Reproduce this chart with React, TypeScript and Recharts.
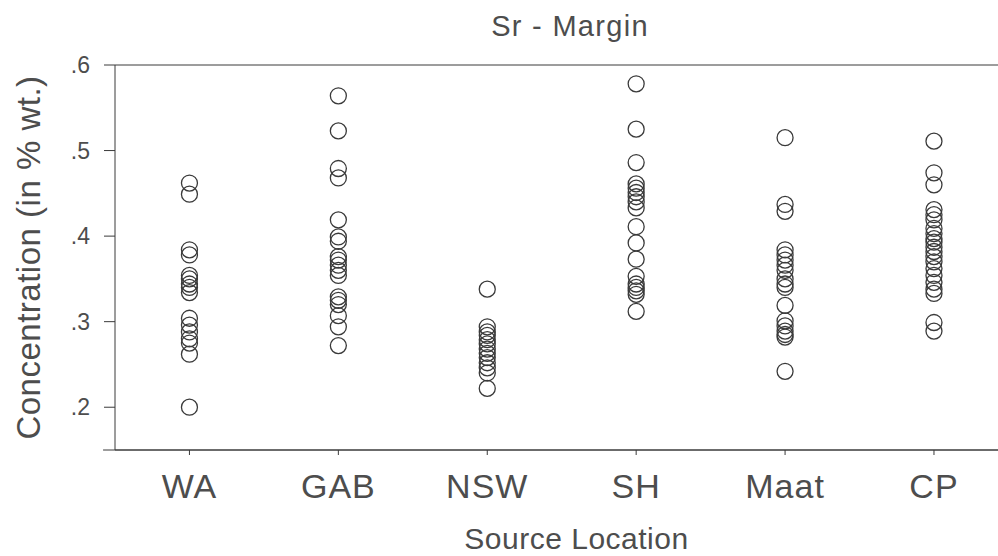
import React from 'react';
import { ScatterChart, Scatter, XAxis, YAxis, ReferenceLine, Label } from 'recharts';

// strontium concentration (% wt.) per source location
const sites = ['WA', 'GAB', 'NSW', 'SH', 'Maat', 'CP'];

const wa = [0.462, 0.449, 0.384, 0.378, 0.354, 0.35, 0.344, 0.34, 0.334, 0.304, 0.296, 0.288, 0.28, 0.275, 0.262, 0.2];
const gab = [0.564, 0.523, 0.479, 0.468, 0.419, 0.399, 0.394, 0.376, 0.372, 0.366, 0.36, 0.354, 0.329, 0.325, 0.32, 0.307, 0.294, 0.272];
const nsw = [0.338, 0.294, 0.288, 0.284, 0.279, 0.274, 0.268, 0.263, 0.258, 0.252, 0.246, 0.24, 0.222];
const sh = [0.578, 0.525, 0.486, 0.461, 0.456, 0.451, 0.446, 0.44, 0.433, 0.411, 0.392, 0.373, 0.353, 0.344, 0.34, 0.336, 0.332, 0.312];
const maat = [0.515, 0.437, 0.429, 0.384, 0.378, 0.372, 0.366, 0.36, 0.35, 0.344, 0.34, 0.319, 0.301, 0.295, 0.289, 0.285, 0.282, 0.242];
const cp = [0.511, 0.474, 0.46, 0.431, 0.425, 0.419, 0.409, 0.403, 0.397, 0.393, 0.387, 0.382, 0.376, 0.37, 0.362, 0.354, 0.346, 0.338, 0.333, 0.299, 0.289];

const yTicks = [0.2, 0.3, 0.4, 0.5, 0.6];
const xTicks = [1, 2, 3, 4, 5, 6];

const seriesValues = [wa, gab, nsw, sh, maat, cp];

const xDomain = [0.5, 6.43];
const yDomain = [0.15, 0.6];

const ink = '#3a3a3a';
const textColor = '#4d4d4d';
const font = '"Liberation Sans", Arial, Helvetica, sans-serif';

const Ring = (props: any) => {
  const { cx, cy } = props;
  return <circle cx={cx} cy={cy} r={8} fill="none" stroke={ink} strokeWidth={1.3} />;
};

const App: React.FC = () => {
  return (
    <div style={{ position: 'absolute', left: 0, top: 0, width: 998, height: 556, background: '#fff', fontFamily: font }}>
      <div
        style={{
          position: 'absolute',
          top: 10,
          left: 0,
          width: 998,
          paddingLeft: 142,
          boxSizing: 'border-box',
          textAlign: 'center',
          fontSize: 29,
          color: textColor,
          letterSpacing: 1.3,
        }}
      >
        Sr - Margin
      </div>
      <ScatterChart width={998} height={556} margin={{ top: 65, right: 0, bottom: 0, left: 0 }}>
        <XAxis
          type="number"
          dataKey="x"
          domain={xDomain}
          ticks={xTicks}
          allowDataOverflow
          tickFormatter={(v: number) => sites[v - 1] ?? ''}
          height={106}
          tickSize={5}
          tickMargin={19}
          stroke={ink}
          tick={{ fill: textColor, fontSize: 34, fontFamily: font, letterSpacing: 1 }}
        >
          <Label
            value="Source Location"
            position="insideBottom"
            offset={7}
            dx={20}
            style={{ fill: textColor, fontSize: 30, fontFamily: font, letterSpacing: 0.5 }}
          />
        </XAxis>
        <YAxis
          type="number"
          dataKey="y"
          domain={yDomain}
          ticks={yTicks}
          allowDataOverflow
          width={115}
          tickSize={11}
          tickMargin={14}
          stroke={ink}
          tickFormatter={(v: number) => v.toFixed(1).replace(/^0/, '')}
          tick={{ fill: textColor, fontSize: 23, fontFamily: font }}
        >
          <Label
            value="Concentration (in % wt.)"
            angle={-90}
            position="insideLeft"
            offset={28}
            style={{ textAnchor: 'middle', fill: textColor, fontSize: 33, fontFamily: font, letterSpacing: 0.5 }}
          />
        </YAxis>
        <ReferenceLine y={yDomain[1]} stroke={ink} strokeWidth={1} />
        {/* baseline runs a little past the y axis, as in the original */}
        <ReferenceLine
          segment={[{ x: 0.42, y: yDomain[0] }, { x: xDomain[1], y: yDomain[0] }]}
          stroke={ink}
          strokeWidth={1}
          ifOverflow="visible"
        />
        {seriesValues.map((vals, i) => (
          <Scatter
            key={sites[i]}
            name={sites[i]}
            data={vals.map((v) => ({ x: i + 1, y: v }))}
            shape={Ring}
            isAnimationActive={false}
          />
        ))}
      </ScatterChart>
    </div>
  );
};

export default App;
